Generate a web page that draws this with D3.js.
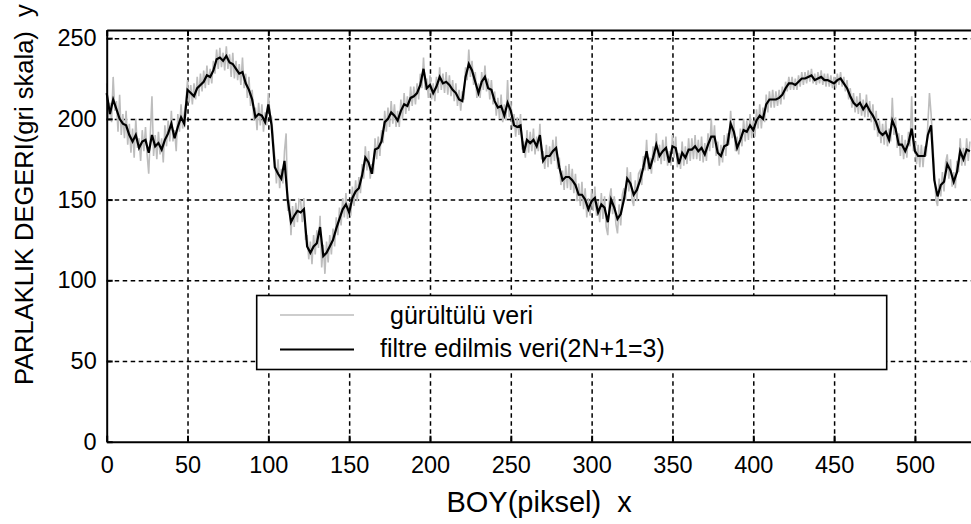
<!DOCTYPE html>
<html>
<head>
<meta charset="utf-8">
<script src="https://cdn.jsdelivr.net/npm/d3@7"></script>
<style>
  html, body { margin: 0; padding: 0; background: #ffffff; }
  svg { display: block; font-family: "Liberation Sans", Arial, sans-serif; }
  text { white-space: pre; }
</style>
</head>
<body>
<svg id="chart" width="971" height="524"></svg>
<script>
// Pixel positions along the row (BOY) and tick values
const xTicks = [0, 50, 100, 150, 200, 250, 300, 350, 400, 450, 500];
const yTicks = [0, 50, 100, 150, 200, 250];

// Noisy brightness values, one per pixel (0..534)
const noisy = [
  222,200,210,198,226,205,211,192,215,190,
  203,188,205,184,197,179,194,176,200,182,
  188,174,193,180,195,178,166,191,214,177,
  190,175,192,178,188,173,196,183,199,186,
  205,186,193,180,203,192,209,194,204,210,
  224,210,221,209,222,212,226,214,228,217,
  230,219,233,221,231,222,236,228,243,231,
  244,232,241,230,245,231,240,226,241,225,
  236,224,234,221,238,219,228,213,226,208,
  218,199,207,193,210,196,209,192,204,196,
  216,203,201,188,176,160,175,157,169,160,
  180,191,143,150,128,146,133,148,136,150,
  149,136,151,125,128,113,124,110,128,116,
  131,120,140,108,122,104,124,111,128,116,
  132,121,139,128,145,134,151,139,154,138,
  148,140,158,146,162,149,164,154,172,163,
  183,168,180,163,172,166,188,175,189,177,
  193,185,205,192,207,195,211,197,209,195,
  205,195,212,200,216,203,214,205,220,208,
  220,209,222,212,228,219,238,218,225,213,
  227,212,222,211,226,216,232,218,228,216,
  229,215,227,214,224,211,222,208,218,205,
  217,212,232,224,243,226,236,221,229,213,
  222,213,229,218,233,217,225,212,224,209,
  217,202,213,200,215,198,209,199,224,201,
  211,194,203,189,201,190,203,181,186,176,
  193,179,192,180,194,178,189,180,197,175,
  180,169,184,170,183,172,187,174,189,169,
  176,159,168,156,171,157,172,156,169,154,
  166,149,160,146,161,144,157,139,151,140,
  156,143,158,140,149,136,154,138,152,133,
  128,151,157,141,152,135,129,147,134,153,
  157,150,170,155,167,150,146,162,149,166,
  168,159,177,168,187,168,176,166,183,173,
  191,174,184,172,187,174,189,171,180,171,
  190,176,189,170,179,169,186,171,183,172,
  188,174,188,175,190,175,187,174,189,173,
  185,174,191,180,200,182,196,177,186,171,
  184,173,190,177,191,184,205,188,199,180,
  189,178,194,183,200,186,199,187,203,188,
  199,189,206,194,209,194,207,198,215,204,
  217,207,218,207,217,208,218,209,220,212,
  223,217,226,218,226,218,225,218,227,220,
  229,221,229,222,230,223,231,222,228,221,
  229,222,230,221,228,220,228,220,227,219,
  226,219,228,221,229,220,226,217,224,212,
  219,207,216,204,214,203,216,202,212,201,
  215,201,211,198,209,193,205,189,199,185,
  197,184,199,183,194,186,213,190,201,182,
  191,177,190,175,187,176,192,183,214,180,
  186,172,184,170,184,170,183,177,197,216,
  203,186,168,150,146,163,152,167,155,173,
  178,163,175,158,167,157,174,167,188,171,
  182,171,188,174,186
];

// Filtered values (3-point window), every second pixel (0, 2, ..., 534)
const filtered = [
  216,203,212,206,200,197,196,190,186,190,
  182,186,187,179,190,183,185,181,187,191,
  197,188,195,201,197,218,216,214,219,221,
  223,227,226,230,237,238,236,239,235,234,
  231,228,229,222,218,212,201,203,202,198,
  209,196,170,166,163,174,150,136,140,143,
  142,144,121,117,121,123,133,115,117,121,
  125,132,138,144,147,142,151,155,157,165,
  176,173,166,181,182,186,198,200,204,202,
  199,205,209,208,213,214,216,221,231,219,
  221,216,220,226,222,223,221,218,216,212,
  211,226,234,230,223,216,223,226,219,218,
  211,207,208,202,210,205,196,195,196,179,
  187,185,187,183,190,174,177,177,180,182,
  170,162,164,164,162,159,153,153,150,144,
  149,151,142,147,145,136,150,145,138,141,
  150,163,160,153,156,162,170,180,169,176,
  184,177,180,182,173,183,182,172,179,176,
  181,181,183,180,182,178,184,189,189,179,
  177,183,184,197,192,182,187,193,192,196,
  193,199,202,200,209,212,212,212,213,215,
  219,222,222,221,223,225,225,226,227,224,
  225,226,224,224,223,222,224,225,222,219,
  214,210,208,210,206,209,205,202,198,192,
  190,192,187,199,194,184,184,180,185,194,
  180,177,177,177,190,196,162,152,159,161,
  172,168,161,167,180,175,181,180
];

const noisyPts = noisy.map((v, i) => [i, v]);
const filteredPts = filtered.map((v, i) => [i * 2, v]);

const svg = d3.select("#chart");
const plotL = 106.7, plotR = 971.5, plotT = 30.1, plotB = 441.7;

const x = d3.scaleLinear().domain([0, 535]).range([plotL, plotR]);
const y = d3.scaleLinear().domain([0, 255]).range([plotB, plotT]);

// dashed grid
const grid = svg.append("g").attr("class", "grid");
grid.append("g")
  .attr("transform", `translate(0,${plotB})`)
  .call(d3.axisBottom(x).tickValues(xTicks.slice(1)).tickSize(-(plotB - plotT)).tickSizeOuter(0).tickFormat(""))
  .call(g => g.select(".domain").remove());
grid.append("g")
  .attr("transform", `translate(${plotL},0)`)
  .call(d3.axisLeft(y).tickValues(yTicks.slice(1)).tickSize(-(plotR - plotL)).tickSizeOuter(0).tickFormat(""))
  .call(g => g.select(".domain").remove());
grid.selectAll("line")
  .attr("stroke", "#000")
  .attr("stroke-width", 1.5)
  .attr("stroke-dasharray", "4.5,3.5");

// series
const line = d3.line().x(d => x(d[0])).y(d => y(d[1]));
svg.append("path")
  .datum(noisyPts)
  .attr("d", line)
  .attr("fill", "none")
  .attr("stroke", "#bdbdbd")
  .attr("stroke-width", 1.6);
svg.append("path")
  .datum(filteredPts)
  .attr("d", line)
  .attr("fill", "none")
  .attr("stroke", "#000")
  .attr("stroke-width", 2.2)
  .attr("stroke-linejoin", "miter");

// axes and frame
const tickFont = g => g.selectAll("text")
  .attr("font-size", 23.5)
  .attr("fill", "#000")
  .attr("font-family", "Liberation Sans, Arial, sans-serif");

svg.append("g")
  .attr("transform", `translate(0,${plotB})`)
  .call(d3.axisBottom(x).tickValues(xTicks).tickSize(-6).tickSizeOuter(0).tickPadding(15))
  .call(tickFont)
  .call(g => g.selectAll("line,path").attr("stroke", "#000").attr("stroke-width", 2));

svg.append("g")
  .attr("transform", `translate(0,${plotT})`)
  .call(d3.axisTop(x).tickValues(xTicks).tickSize(-6).tickSizeOuter(0).tickFormat(""))
  .call(g => g.selectAll("line,path").attr("stroke", "#000").attr("stroke-width", 2));

svg.append("g")
  .attr("transform", `translate(${plotL},0)`)
  .call(d3.axisLeft(y).tickValues(yTicks).tickSize(-6).tickSizeOuter(0).tickPadding(10))
  .call(tickFont)
  .call(g => g.selectAll("line,path").attr("stroke", "#000").attr("stroke-width", 2));

// legend
const lg = svg.append("g");
lg.append("rect")
  .attr("x", 256.7).attr("y", 295.5)
  .attr("width", 630).attr("height", 74)
  .attr("fill", "#fff").attr("stroke", "#000").attr("stroke-width", 1.6);
const legendItems = [
  { label: "gürültülü veri", color: "#bdbdbd", w: 1.6, ly: 315, ty: 324, tx: 390 },
  { label: "filtre edilmis veri(2N+1=3)", color: "#000", w: 2.2, ly: 349.5, ty: 357, tx: 380 }
];
legendItems.forEach(it => {
  lg.append("line")
    .attr("x1", 280).attr("x2", 354)
    .attr("y1", it.ly).attr("y2", it.ly)
    .attr("stroke", it.color).attr("stroke-width", it.w);
  lg.append("text")
    .attr("x", it.tx).attr("y", it.ty)
    .attr("font-size", 25)
    .attr("fill", "#000")
    .text(it.label);
});

// axis titles
svg.append("text")
  .attr("x", (plotL + plotR) / 2).attr("y", 511.5)
  .attr("text-anchor", "middle")
  .attr("font-size", 29)
  .attr("fill", "#000")
  .text("BOY(piksel)  x");

svg.append("text")
  .attr("transform", "translate(33,385) rotate(-90)")
  .attr("text-anchor", "start")
  .attr("font-size", 25.5)
  .attr("fill", "#000")
  .text("PARLAKLIK DEGERI(gri skala)  y");
</script>
</body>
</html>
